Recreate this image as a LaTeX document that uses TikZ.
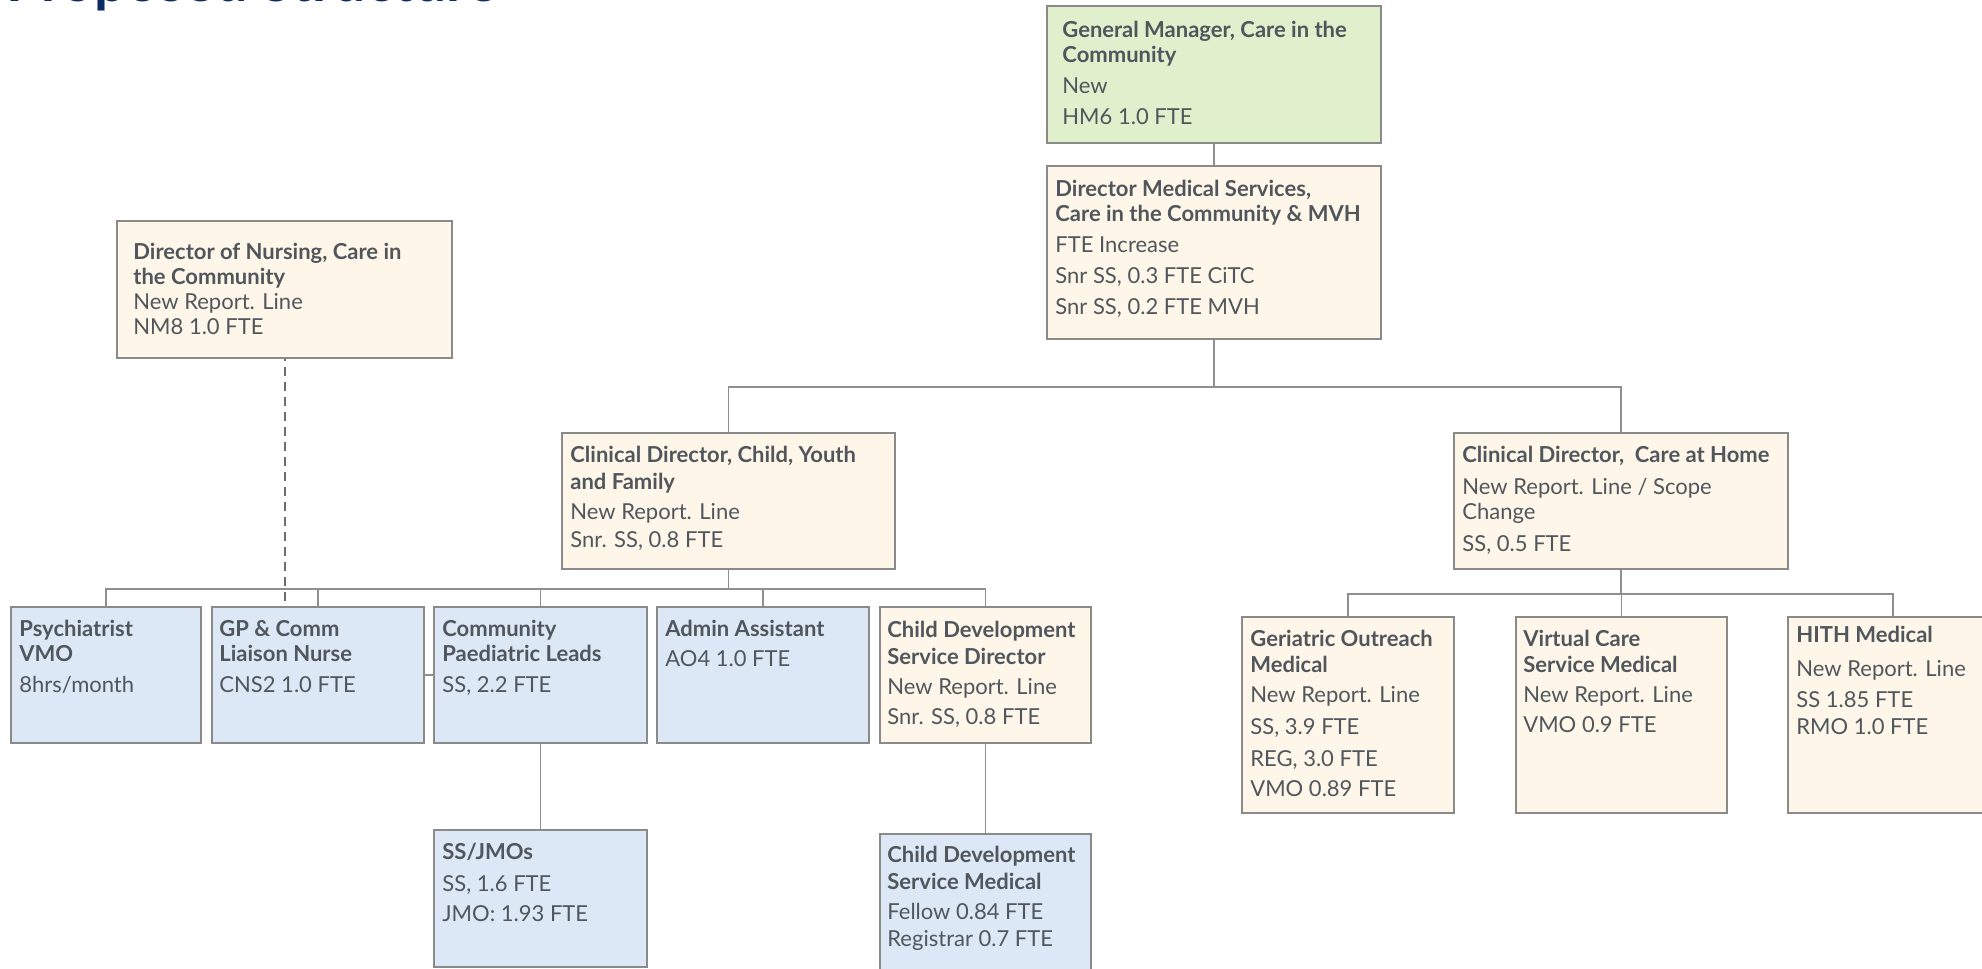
\documentclass[tikz,border=0pt]{standalone}
\usepackage{fontspec}
\setmainfont{Lato}
\usepackage{tikz}
\usetikzlibrary{calc,fit}
\definecolor{boxline}{HTML}{8A8A8A}
\definecolor{linegray}{HTML}{8F8F8F}
\definecolor{creamfill}{HTML}{FEF7E9}
\definecolor{greenfill}{HTML}{E0F0CD}
\definecolor{bluefill}{HTML}{DCE8F5}
\definecolor{bodytext}{HTML}{50565C}
\definecolor{navy}{HTML}{0C2A63}

\begin{document}
\begin{tikzpicture}[x=0.5pt,y=-0.5pt,
  box/.style={draw=boxline,line width=1pt,inner sep=0pt,rectangle},
  gmbox/.style={box,fill=greenfill},
  creambox/.style={box,fill=creamfill},
  bluebox/.style={box,fill=bluefill},
  txt/.style={anchor=base west,align=left,inner sep=0pt,text=bodytext,font=\fontsize{11}{12.5}\selectfont},
  link/.style={draw=linegray,line width=0.8pt}]
\useasboundingbox (0,0) rectangle (1982,969);
\fill[white] (0,0) rectangle (1982,969);
\node[anchor=base west,inner sep=0pt,text=navy,font=\bfseries\fontsize{28.5}{30}\selectfont] (title) at (6,2) {Proposed Structure};

% top of the tree (text nodes sit on their last line)
\node[gmbox,fit={(1047,6) (1381,143)}] (gm) {};
\node[txt] (gmT) at ($(gm.north west)+(16,119)$) {\textbf{General Manager, Care in the}\\ \textbf{Community}\\[3pt] New\\[3pt] HM6 1.0 FTE};
\node[creambox,fit={(1047,166) (1381,339)}] (dms) {};
\node[txt] (dmsT) at ($(dms.north west)+(9,149)$) {\textbf{Director Medical Services,}\\ \textbf{Care in the Community \& MVH}\\[3pt] FTE Increase\\[3pt] Snr SS, 0.3 FTE CiTC\\[3pt] Snr SS, 0.2 FTE MVH};
\node[creambox,fit={(117,221) (452,358)}] (don) {};
\node[txt] (donT) at ($(don.north west)+(17,114)$) {\textbf{Director of Nursing, Care in}\\ \textbf{the Community}\\ New Report. Line\\ NM8 1.0 FTE};

% clinical directors
\node[creambox,fit={(562,433) (895,569)}] (cdc) {};
\node[txt] (cdcT) at ($(cdc.north west)+(9,115)$) {\textbf{Clinical Director, Child, Youth}\\[1pt] \textbf{and Family}\\[2.5pt] New Report. Line\\[1.5pt] Snr. SS, 0.8 FTE};
\node[creambox,fit={(1454,433) (1788,569)}] (cdh) {};
\node[txt] (cdhT) at ($(cdh.north west)+(9,119)$) {\textbf{Clinical Director,\ \ Care at Home}\\[3.5pt] New Report. Line / Scope\\ Change\\[3.5pt] SS, 0.5 FTE};

% child, youth and family
\node[bluebox,fit={(11,607) (201,743)}] (psych) {};
\node[txt] (psychT) at ($(psych.north west)+(9,86)$) {\textbf{Psychiatrist}\\ \textbf{VMO}\\[3pt] 8hrs/month};
\node[bluebox,fit={(212,607) (424,743)}] (gp) {};
\node[txt] (gpT) at ($(gp.north west)+(8,86)$) {\textbf{GP \& Comm}\\ \textbf{Liaison Nurse}\\[3pt] CNS2 1.0 FTE};
\node[bluebox,fit={(434,607) (647,743)}] (cpl) {};
\node[txt] (cplT) at ($(cpl.north west)+(9,86)$) {\textbf{Community}\\ \textbf{Paediatric Leads}\\[3pt] SS, 2.2 FTE};
\node[bluebox,fit={(657,607) (869,743)}] (admin) {};
\node[txt] (adminT) at ($(admin.north west)+(9,60)$) {\textbf{Admin Assistant}\\[2.5pt] AO4 1.0 FTE};
\node[creambox,fit={(880,607) (1091,743)}] (cdsd) {};
\node[txt] (cdsdT) at ($(cdsd.north west)+(8,118)$) {\textbf{Child Development}\\[1pt] \textbf{Service Director}\\[2.5pt] New Report. Line\\[2.5pt] Snr. SS, 0.8 FTE};
\node[bluebox,fit={(434,830) (647,967)}] (jmo) {};
\node[txt] (jmoT) at ($(jmo.north west)+(9,92)$) {\textbf{SS/JMOs}\\[3.5pt] SS, 1.6 FTE\\[2.5pt] JMO: 1.93 FTE};
\node[bluebox,fit={(880,834) (1091,975)}] (cdsm) {};
\node[txt] (cdsmT) at ($(cdsm.north west)+(8,113)$) {\textbf{Child Development}\\[1pt] \textbf{Service Medical}\\[2.5pt] Fellow 0.84 FTE\\[1pt] Registrar 0.7 FTE};

% care at home
\node[creambox,fit={(1242,617) (1454,813)}] (geri) {};
\node[txt] (geriT) at ($(geri.north west)+(9,180)$) {\textbf{Geriatric Outreach}\\[0.5pt] \textbf{Medical}\\[2.5pt] New Report. Line\\[3.5pt] SS, 3.9 FTE\\[3.5pt] REG, 3.0 FTE\\[2.5pt] VMO 0.89 FTE};
\node[creambox,fit={(1516,617) (1727,813)}] (vcsm) {};
\node[txt] (vcsmT) at ($(vcsm.north west)+(8,116)$) {\textbf{Virtual Care}\\[0.5pt] \textbf{Service Medical}\\[2.5pt] New Report. Line\\[2.5pt] VMO 0.9 FTE};
\node[creambox,fit={(1788,617) (1998,813)}] (hith) {};
\node[txt] (hithT) at ($(hith.north west)+(9,118)$) {\textbf{HITH Medical}\\[4.5pt] New Report. Line\\[3pt] SS 1.85 FTE\\[1pt] RMO 1.0 FTE};

% connectors
\draw[link] (gm.south) -- (dms.north);
\draw[link] (dms.south) -- ++(0,47) -| (cdc.north);
\draw[link] (dms.south) -- ++(0,47) -| (cdh.north);
\foreach \n in {psych,gp,cpl,admin,cdsd}
  \draw[link] (cdc.south) -- ++(0,19) -| (\n.north);
\foreach \n in {geri,vcsm,hith}
  \draw[link] (cdh.south) -- ++(0,24) -| (\n.north);
\draw[link] (cpl.south) -- (jmo.north);
\draw[link] (cdsd.south) -- (cdsm.north);
\draw[link] (gp.east) -- (cpl.west);
\draw[draw=gray!85!black,line width=1pt,dash pattern=on 4.5pt off 3pt,dash phase=-4pt] (don.south) -- (don.south |- gp.north);
\end{tikzpicture}
\end{document}
